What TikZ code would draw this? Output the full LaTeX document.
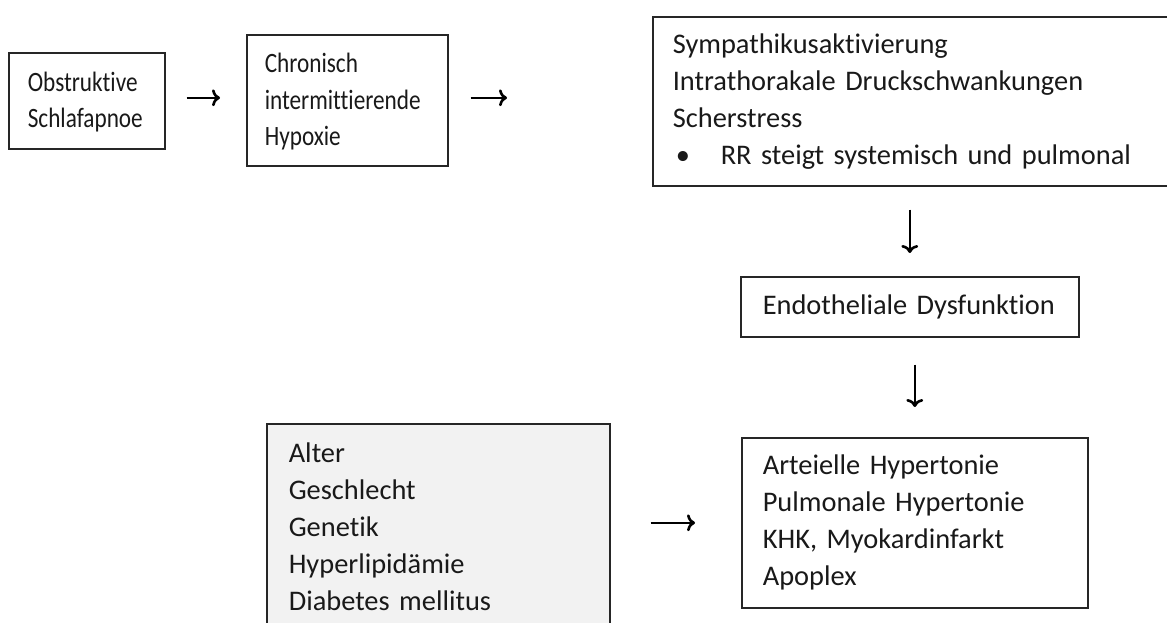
\documentclass[tikz,border=0pt]{standalone}
\usepackage{fontspec}
\setmainfont{Carlito}[Ligatures=NoCommon]
\newfontfamily\narrowfont{Carlito}[Ligatures=NoCommon,FakeStretch=0.83]
\usetikzlibrary{arrows.meta,calc}
\definecolor{boxgray}{HTML}{F2F2F2}
\begin{document}
\begin{tikzpicture}[x=1pt,y=-1pt,
  box/.style={draw=black!85, line width=1.6pt, anchor=north west, inner xsep=20pt, inner ysep=0pt, align=left, text=black!90, font=\fontsize{28.4}{37}\selectfont},
  small/.style={font=\narrowfont\fontsize{28}{36.5}\selectfont},
  arr/.style={line width=2.6pt, -{Computer Modern Rightarrow[length=8pt,width=17pt,line width=2.6pt]}}]
\clip (0,0) rectangle (1167,622);
\fill[white] (0,0) rectangle (1167,622);
\node[box, small, inner xsep=19pt, text width=118pt, minimum height=96pt] (b1) at (8,52) {\rule{0pt}{22pt}Obstruktive\\Schlafapnoe};
\node[box, small, inner xsep=18pt, text width=165pt, minimum height=131pt] (b2) at (246,34) {\rule{0pt}{22pt}Chronisch\\intermittierende\\Hypoxie};
\node[box, text width=500pt, minimum height=169pt] (b3) at (652,16) {Sympathikusaktivierung\\Intrathorakale Druckschwankungen\\Scherstress\\\hspace*{3pt}\makebox[45pt][l]{\textbullet}RR steigt systemisch und pulmonal};
\node[box, inner xsep=22pt, text width=294pt, minimum height=60pt] (b4) at (740,276) {Endotheliale Dysfunktion};
\node[box, inner xsep=21pt, text width=304pt, minimum height=170pt] (b5) at (741,437) {Arteielle Hypertonie\\Pulmonale Hypertonie\\KHK, Myokardinfarkt\\Apoplex};
\node[box, fill=boxgray, inner xsep=22pt, text width=299pt, minimum height=205pt] (b6) at (266,423) {Alter\\Geschlecht\\Genetik\\Hyperlipidämie\\Diabetes mellitus};
\draw[arr] ($(b1.east)+(21,-3)$) -- ($(b2.west |- b1.east)+(-26,-3)$);
\draw[arr] ($(b2.east |- b1.east)+(22,-3)$) -- ($(b3.west |- b1.east)+(-145,-3)$);
\draw[arr] ($(b3.south -| b4.north)+(0,23)$) -- ($(b4.north)+(0,-23)$);
\draw[arr] ($(b4.south -| b5.north)+(0,27)$) -- ($(b5.north)+(0,-30)$);
\draw[arr] ($(b6.east |- b5.west)+(40,0)$) -- ($(b5.west)+(-46,0)$);
\end{tikzpicture}
\end{document}
